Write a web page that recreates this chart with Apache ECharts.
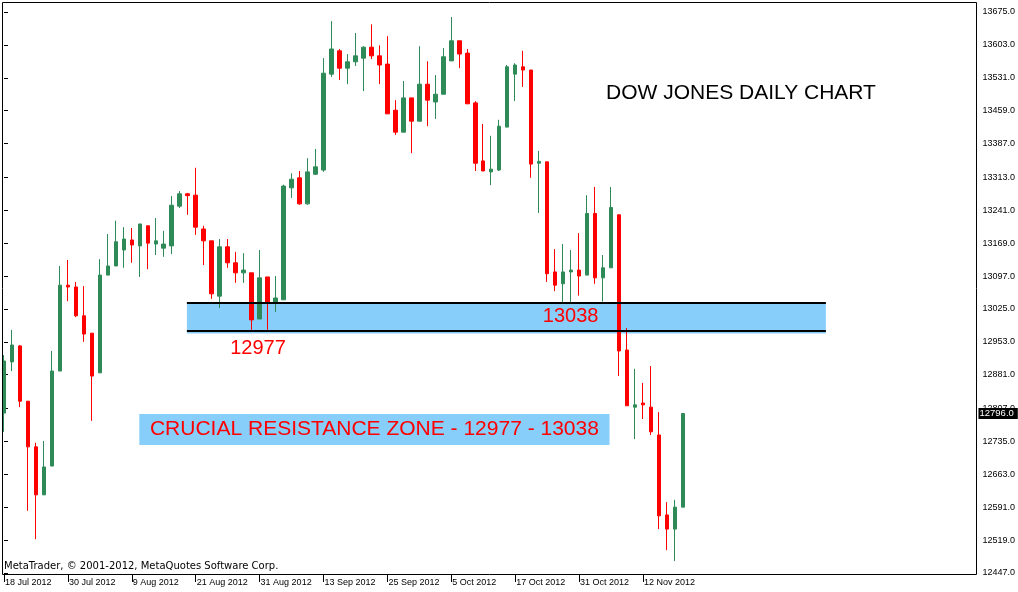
<!DOCTYPE html>
<html><head><meta charset="utf-8">
<script src="https://cdn.jsdelivr.net/npm/echarts@6/dist/echarts.min.js"></script>
<style>html,body{margin:0;padding:0;background:#fff}#c{width:1018px;height:592px}</style>
</head><body><div id="c"></div>
<script>
// Trading days (daily bars)
const dates = [
 '18 Jul 2012','19 Jul 2012','20 Jul 2012','23 Jul 2012','24 Jul 2012','25 Jul 2012','26 Jul 2012','27 Jul 2012','30 Jul 2012','31 Jul 2012',
 '1 Aug 2012','2 Aug 2012','3 Aug 2012','6 Aug 2012','7 Aug 2012','8 Aug 2012','9 Aug 2012','10 Aug 2012','13 Aug 2012','14 Aug 2012',
 '15 Aug 2012','16 Aug 2012','17 Aug 2012','20 Aug 2012','21 Aug 2012','22 Aug 2012','23 Aug 2012','24 Aug 2012','27 Aug 2012','28 Aug 2012',
 '29 Aug 2012','30 Aug 2012','31 Aug 2012','4 Sep 2012','5 Sep 2012','6 Sep 2012','7 Sep 2012','10 Sep 2012','11 Sep 2012','12 Sep 2012',
 '13 Sep 2012','14 Sep 2012','17 Sep 2012','18 Sep 2012','19 Sep 2012','20 Sep 2012','21 Sep 2012','24 Sep 2012','25 Sep 2012','26 Sep 2012',
 '27 Sep 2012','28 Sep 2012','1 Oct 2012','2 Oct 2012','3 Oct 2012','4 Oct 2012','5 Oct 2012','8 Oct 2012','9 Oct 2012','10 Oct 2012',
 '11 Oct 2012','12 Oct 2012','15 Oct 2012','16 Oct 2012','17 Oct 2012','18 Oct 2012','19 Oct 2012','22 Oct 2012','23 Oct 2012','24 Oct 2012',
 '25 Oct 2012','26 Oct 2012','31 Oct 2012','1 Nov 2012','2 Nov 2012','5 Nov 2012','6 Nov 2012','7 Nov 2012','8 Nov 2012','9 Nov 2012',
 '12 Nov 2012','13 Nov 2012','14 Nov 2012','15 Nov 2012','16 Nov 2012','19 Nov 2012'
];
const opens = [
 12797,12909,12944,12823,12723,12618,12681,12889,13077,13073,
 13010,12972,12885,13099,13119,13154,13176,13163,13207,13167,
 13158,13163,13250,13277,13274,13200,13174,13053,13161,13126,
 13104,13104,13003,13095,13040,13045,13290,13312,13255,13320,
 13329,13539,13590,13552,13566,13574,13598,13579,13561,13460,
 13412,13487,13436,13517,13478,13495,13568,13612,13585,13476,
 13349,13325,13329,13423,13539,13555,13548,13344,13347,13106,
 13080,13106,13110,13099,13234,13093,13115,13231,12935,12810,
 12819,12810,12749,12574,12543,12591
];
const highs = [
 12924,12979,12946,12823,12732,12736,12933,13119,13132,13084,
 13075,12972,13134,13189,13218,13204,13202,13211,13207,13224,
 13196,13272,13283,13279,13334,13207,13174,13178,13178,13150,
 13147,13104,13154,13095,13097,13297,13322,13327,13355,13375,
 13574,13655,13594,13583,13629,13600,13648,13602,13622,13482,
 13524,13487,13600,13567,13537,13596,13664,13612,13594,13480,
 13430,13404,13439,13559,13563,13590,13548,13371,13347,13156,
 13167,13154,13191,13274,13292,13143,13292,13231,12983,12894,
 12863,12900,12799,12602,12607,12796
];
const lows = [
 12756,12889,12810,12583,12521,12618,12681,12889,13042,13007,
 12953,12780,12885,13099,13119,13115,13126,13095,13112,13143,
 13139,13145,13246,13231,13187,13121,13047,13027,13115,13082,
 13082,12979,13003,12979,13018,13045,13268,13253,13253,13318,
 13325,13533,13526,13517,13557,13502,13572,13517,13452,13406,
 13412,13366,13436,13425,13441,13495,13568,13552,13474,13327,
 13327,13296,13327,13423,13480,13511,13312,13235,13084,13064,
 13040,13040,13054,13099,13080,13041,13115,12878,12813,12740,
 12784,12749,12543,12497,12473,12591
];
const closes = [
 12911,12946,12823,12723,12618,12679,12889,13077,13073,13010,
 12970,12878,13099,13119,13172,13178,13165,13211,13169,13174,
 13167,13252,13277,13273,13204,13174,13058,13161,13126,13104,
 13110,13001,13093,13040,13049,13294,13309,13255,13325,13336,
 13541,13594,13552,13566,13579,13598,13579,13559,13452,13412,
 13487,13436,13517,13482,13495,13577,13612,13583,13474,13344,
 13327,13331,13425,13555,13559,13548,13342,13348,13102,13077,
 13106,13110,13097,13234,13093,13115,13247,12933,12813,12815,
 12815,12756,12572,12543,12591,12796
];
const yTicks = [13675,13603,13531,13459,13387,13313,13241,13169,13097,13025,12953,12881,12807,12735,12663,12591,12519,12447];
const zoneTop = 13038;
const zoneBottom = 12977;
const lastPrice = 12796;
const titleText = 'DOW JONES DAILY CHART';
const zoneText = 'CRUCIAL RESISTANCE ZONE - 12977 - 13038';
const copyrightText = 'MetaTrader, \u00A9 2001-2012, MetaQuotes Software Corp.';

const SLOTS = 122;
const cats = dates.concat(Array(SLOTS - dates.length).fill(''));
const ohlc = dates.map((d, i) => [opens[i], closes[i], lows[i], highs[i]]);
const showIdx = (i) => i % 8 === 0 && i < dates.length;

const chart = echarts.init(document.getElementById('c'), null, {renderer: 'canvas'});
chart.setOption({
  animation: false,
  backgroundColor: '#ffffff',
  grid: {left: -0.5, top: 2, width: 976, height: 572},
  xAxis: [
    {type: 'category', data: cats, boundaryGap: true,
     axisLine: {show: false},
     axisTick: {show: true, alignWithLabel: true, interval: showIdx, length: 8, lineStyle: {color: '#000'}},
     axisLabel: {interval: showIdx, align: 'left', margin: 4, padding: [0, 0, 0, 1], color: '#000', fontFamily: 'Liberation Sans', fontSize: 9},
     splitLine: {show: false}},
    {type: 'value', min: -0.5, max: SLOTS - 0.5, show: false}
  ],
  yAxis: {type: 'value', position: 'right', offset: 1, min: 12444.7, max: 13696.9,
    splitLine: {show: false}, axisLine: {show: false},
    axisTick: {show: true, customValues: yTicks, length: 4, lineStyle: {color: '#000'}},
    axisLabel: {customValues: yTicks, formatter: v => v.toFixed(1), margin: 7, color: '#000', fontFamily: 'Liberation Sans', fontSize: 9}},
  series: [
    {type: 'line', xAxisIndex: 1, yAxisIndex: 0, data: [], z: 1, silent: true,
     markArea: {silent: true, itemStyle: {color: '#87CEFA'}, label: {show: false},
       data: [
         [{coord: [22.9, 13040]}, {coord: [102.9, 12971]}],
         [{name: zoneText, coord: [16.94, 12795],
           label: {show: true, position: 'inside', color: '#FF0000', fontFamily: 'Liberation Sans', fontSize: 21, formatter: '{b}'}},
          {coord: [75.81, 12727]}]
       ]}},
    {type: 'candlestick', xAxisIndex: 0, yAxisIndex: 0, data: ohlc, barWidth: 4, z: 3,
     itemStyle: {color: '#2E8B57', color0: '#FF0000', borderColor: '#2E8B57', borderColor0: '#FF0000', borderWidth: 1}},
    {type: 'line', xAxisIndex: 1, yAxisIndex: 0, data: [], z: 5, silent: true,
     markLine: {silent: true, symbol: ['none', 'none'], label: {show: false},
       lineStyle: {color: '#000', width: 2, type: 'solid'},
       data: [
         [{coord: [22.9, zoneTop]}, {coord: [102.9, zoneTop]}],
         [{coord: [22.9, zoneBottom]}, {coord: [102.9, zoneBottom]}],
         {yAxis: lastPrice, lineStyle: {color: 'rgba(0,0,0,0)', width: 1},
          label: {show: true, position: 'end', distance: 4, formatter: () => lastPrice.toFixed(1),
                  color: '#fff', backgroundColor: '#000', padding: [1, 4, 0, 1], fontFamily: 'Liberation Sans', fontSize: 9.5}}
       ]},
     markPoint: {symbol: 'rect', symbolSize: 1, itemStyle: {color: 'rgba(0,0,0,0)'},
       label: {show: true, position: 'inside', color: '#FF0000', fontFamily: 'Liberation Sans', fontSize: 20, formatter: '{b}'},
       data: [
         {name: String(zoneTop), coord: [70.94, 13009.5]},
         {name: String(zoneBottom), coord: [31.8, 12937.3]}
       ]}}
  ],
  graphic: [
    {type: 'rect', silent: true, z: 99, shape: {x: 0, y: 0, width: 2, height: 592}, style: {fill: '#fff'}},
    {type: 'rect', silent: true, z: 100, shape: {x: 2.5, y: 2.5, width: 974, height: 572}, style: {fill: null, stroke: '#000', lineWidth: 1}},
    {type: 'text', silent: true, z: 100, x: 606, y: 93, style: {text: titleText, fill: '#000', font: '21px "Liberation Sans"', verticalAlign: 'middle'}},
    {type: 'text', silent: true, z: 100, x: 4, y: 566, style: {text: copyrightText, fill: '#000', font: '10px "DejaVu Sans"', verticalAlign: 'middle'}}
  ]
});
</script></body></html>
